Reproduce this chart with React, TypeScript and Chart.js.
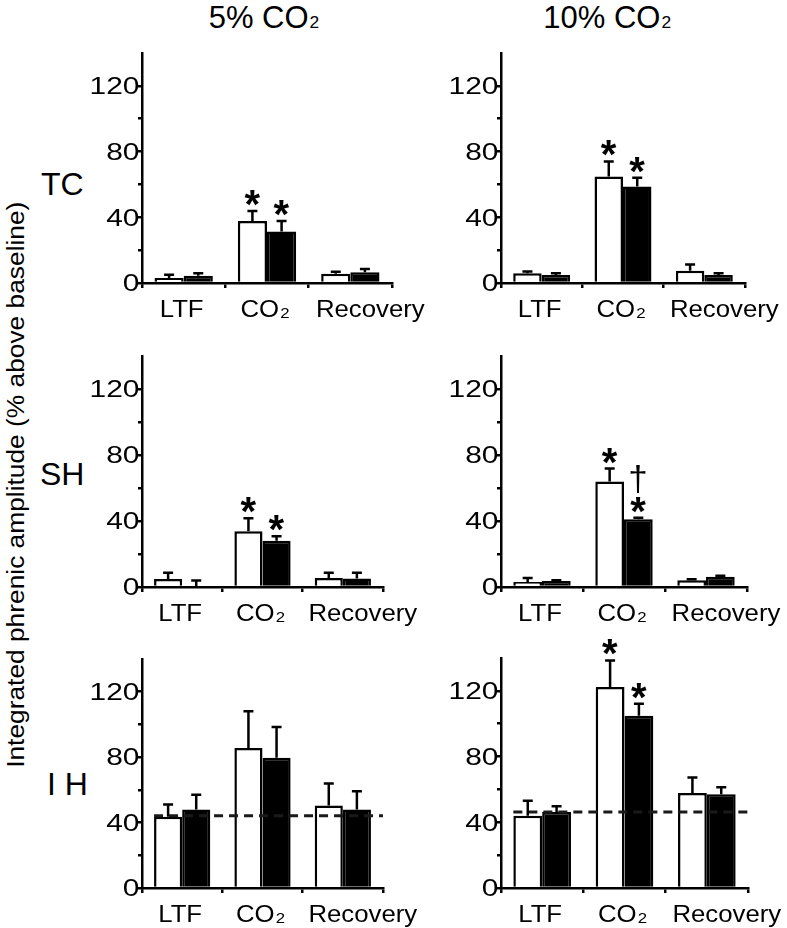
import React, { useEffect, useRef } from 'react';
import { Chart, registerables } from 'chart.js';

Chart.register(...registerables);

// ---------- data ----------
const categories = ['LTF', 'CO₂', 'Recovery'];
const yTickLabels = [0, 40, 80, 120];
const columnTitles = ['5% CO', '10% CO'];
const rowLabels = ['TC', 'SH', 'I H'];
const yAxisTitle = 'Integrated phrenic amplitude (% above baseline)';

// TC, 5% CO2
const tc5Open = [3.0, 37.8, 5.7];
const tc5OpenErr = [2.0, 6.0, 1.2];
const tc5Filled = [4.4, 31.3, 6.5];
const tc5FilledErr = [1.6, 6.5, 2.0];
const tc5OpenMarks = [[], ['*'], []];
const tc5FilledMarks = [[], ['*'], []];

// TC, 10% CO2
const tc10Open = [5.9, 64.9, 7.5];
const tc10OpenErr = [1.1, 9.1, 3.7];
const tc10Filled = [4.9, 58.8, 4.9];
const tc10FilledErr = [1.0, 5.2, 1.0];
const tc10OpenMarks = [[], ['*'], []];
const tc10FilledMarks = [[], ['*'], []];

// SH, 5% CO2
const sh5Open = [4.9, 33.8, 5.5];
const sh5OpenErr = [3.7, 7.8, 3.1];
const sh5Filled = [0, 28.1, 5.1];
const sh5FilledErr = [3.9, 2.7, 3.5];
const sh5OpenMarks = [[], ['*'], []];
const sh5FilledMarks = [[], ['*'], []];

// SH, 10% CO2
const sh10Open = [3.1, 64.0, 4.1];
const sh10OpenErr = [2.4, 7.8, 0.6];
const sh10Filled = [3.7, 41.0, 6.2];
const sh10FilledErr = [0.4, 1.0, 0.6];
const sh10OpenMarks = [[], ['*'], []];
const sh10FilledMarks = [[], ['*', '†'], []];

// IH, 5% CO2
const ih5Open = [43.6, 85.6, 50.5];
const ih5OpenErr = [7.5, 22.4, 13.4];
const ih5Filled = [48.0, 79.7, 48.0];
const ih5FilledErr = [9.0, 18.7, 11.2];
const ih5OpenMarks = [[], [], []];
const ih5FilledMarks = [[], [], []];
const ih5Baseline = 44.2;

// IH, 10% CO2
const ih10Open = [44.0, 122.3, 57.8];
const ih10OpenErr = [9.1, 16.2, 9.5];
const ih10Filled = [46.2, 104.9, 57.0];
const ih10FilledErr = [3.5, 7.3, 4.3];
const ih10OpenMarks = [[], ['*'], []];
const ih10FilledMarks = [[], ['*'], []];
const ih10Baseline = 46.2;

// ---------- layout ----------
const FONT = '"Liberation Sans", Arial, Helvetica, sans-serif';
const PAD_L = 60;
const PAD_T = 50;
const PAD_R = 50;
const PAD_B = 45;
const labelShift = [-2, -2, 20];

type PanelDef = {
  open: number[];
  openErr: number[];
  filled: number[];
  filledErr: number[];
  openMarks: string[][];
  filledMarks: string[][];
  baseline?: number;
  area: { l: number; t: number; r: number; b: number };
};

const panels: PanelDef[] = [
  { open: tc5Open, openErr: tc5OpenErr, filled: tc5Filled, filledErr: tc5FilledErr, openMarks: tc5OpenMarks, filledMarks: tc5FilledMarks, area: { l: 142, t: 53, r: 392, b: 283 } },
  { open: tc10Open, openErr: tc10OpenErr, filled: tc10Filled, filledErr: tc10FilledErr, openMarks: tc10OpenMarks, filledMarks: tc10FilledMarks, area: { l: 501, t: 53, r: 745, b: 283 } },
  { open: sh5Open, openErr: sh5OpenErr, filled: sh5Filled, filledErr: sh5FilledErr, openMarks: sh5OpenMarks, filledMarks: sh5FilledMarks, area: { l: 142, t: 356, r: 383, b: 587 } },
  { open: sh10Open, openErr: sh10OpenErr, filled: sh10Filled, filledErr: sh10FilledErr, openMarks: sh10OpenMarks, filledMarks: sh10FilledMarks, area: { l: 501, t: 356, r: 747, b: 587 } },
  { open: ih5Open, openErr: ih5OpenErr, filled: ih5Filled, filledErr: ih5FilledErr, openMarks: ih5OpenMarks, filledMarks: ih5FilledMarks, baseline: ih5Baseline, area: { l: 142, t: 659, r: 383, b: 888 } },
  { open: ih10Open, openErr: ih10OpenErr, filled: ih10Filled, filledErr: ih10FilledErr, openMarks: ih10OpenMarks, filledMarks: ih10FilledMarks, baseline: ih10Baseline, area: { l: 501, t: 658, r: 748, b: 888 } },
];

function drawInk(ctx: CanvasRenderingContext2D, text: string, font: string, cx: number, cy: number) {
  ctx.font = font;
  ctx.textAlign = 'left';
  ctx.textBaseline = 'alphabetic';
  const m = ctx.measureText(text);
  const left = m.actualBoundingBoxLeft;
  const right = m.actualBoundingBoxRight;
  const asc = m.actualBoundingBoxAscent;
  const desc = m.actualBoundingBoxDescent;
  const x = cx - (right - left) / 2;
  const y = cy + (asc - desc) / 2;
  ctx.fillText(text, x, y);
}

function Panel({ p }: { p: PanelDef }) {
  const ref = useRef<HTMLCanvasElement | null>(null);
  const w = p.area.r - p.area.l + PAD_L + PAD_R;
  const h = p.area.b - p.area.t + PAD_T + PAD_B;

  useEffect(() => {
    const canvas = ref.current;
    if (!canvas) return;

    const errPlugin = {
      id: 'errBars',
      afterDatasetsDraw(chart: any) {
        const ctx = chart.ctx as CanvasRenderingContext2D;
        const ys = chart.scales.y;
        const errs = [p.openErr, p.filledErr];
        const marks = [p.openMarks, p.filledMarks];
        ctx.save();
        // dashed baseline
        if (p.baseline !== undefined) {
          const first = chart.getDatasetMeta(0).data[0];
          const yb = ys.getPixelForValue(p.baseline);
          ctx.beginPath();
          ctx.setLineDash([9, 6]);
          ctx.lineWidth = 3;
          ctx.strokeStyle = '#1a1a1a';
          ctx.moveTo(first.x - first.width / 2, yb);
          ctx.lineTo(chart.chartArea.right, yb);
          ctx.stroke();
          ctx.setLineDash([]);
        }
        for (let di = 0; di < 2; di++) {
          const meta = chart.getDatasetMeta(di);
          const vals = chart.data.datasets[di].data as number[];
          meta.data.forEach((bar: any, i: number) => {
            const v = vals[i];
            const e = errs[di][i];
            const y0 = ys.getPixelForValue(v);
            const y1 = ys.getPixelForValue(v + e);
            ctx.beginPath();
            ctx.strokeStyle = '#000';
            ctx.lineWidth = 2.5;
            ctx.moveTo(bar.x, y0);
            ctx.lineTo(bar.x, y1);
            ctx.moveTo(bar.x - 5, y1);
            ctx.lineTo(bar.x + 5, y1);
            ctx.stroke();
            ctx.fillStyle = '#000';
            let cy = y1 - 13;
            (marks[di][i] || []).forEach((mk) => {
              if (mk === '*') {
                drawInk(ctx, mk, `bold 40px ${FONT}`, bar.x, cy);
              } else {
                drawInk(ctx, mk, `35px ${FONT}`, bar.x, cy - 1);
              }
              cy -= 25;
            });
          });
        }
        ctx.restore();
      },
    };

    const textPlugin = {
      id: 'axisText',
      afterDraw(chart: any) {
        const ctx = chart.ctx as CanvasRenderingContext2D;
        const ys = chart.scales.y;
        const xs = chart.scales.x;
        ctx.save();
        ctx.fillStyle = '#000';
        ctx.textBaseline = 'alphabetic';
        // y tick labels
        const yf = 23;
        ctx.font = `${yf}px ${FONT}`;
        ctx.textAlign = 'right';
        yTickLabels.forEach((v) => {
          const py = ys.getPixelForValue(v);
          ctx.save();
          ctx.translate(chart.chartArea.left - 2.5, py + 0.358 * yf);
          ctx.scale(1.3, 1);
          ctx.fillText(String(v), 0, 0);
          ctx.restore();
        });
        // x labels
        const xf = 23;
        const sx = 1.12;
        const by = chart.chartArea.bottom + 33.5;
        ctx.textAlign = 'left';
        categories.forEach((lab, i) => {
          const px = xs.getPixelForTick(i) + labelShift[i];
          const parts = lab.split('₂');
          const main = parts[0];
          const hasSub = parts.length > 1;
          ctx.font = `${xf}px ${FONT}`;
          const mw = ctx.measureText(main).width * sx;
          let sw = 0;
          if (hasSub) {
            ctx.font = `${Math.round(xf * 0.66)}px ${FONT}`;
            sw = ctx.measureText('2').width * sx + 1;
          }
          const x0 = px - (mw + sw) / 2;
          ctx.save();
          ctx.translate(x0, by);
          ctx.scale(sx, 1);
          ctx.font = `${xf}px ${FONT}`;
          ctx.fillText(main, 0, 0);
          ctx.restore();
          if (hasSub) {
            ctx.save();
            ctx.translate(x0 + mw + 1, by + 1.5);
            ctx.scale(sx, 1);
            ctx.font = `${Math.round(xf * 0.66)}px ${FONT}`;
            ctx.fillText('2', 0, 0);
            ctx.restore();
          }
        });
        ctx.restore();
      },
    };

    const chart = new Chart(canvas, {
      type: 'bar',
      data: {
        labels: categories,
        datasets: [
          { data: p.open, backgroundColor: '#ffffff', borderColor: '#000000', borderWidth: 2.5 },
          { data: p.filled, backgroundColor: '#000000', borderColor: '#000000', borderWidth: 2.5 },
        ],
      },
      options: {
        responsive: false,
        animation: false,
        devicePixelRatio: 1,
        events: [],
        layout: { padding: { left: 0, top: PAD_T, right: PAD_R, bottom: 0 } },
        datasets: { bar: { categoryPercentage: 0.7, barPercentage: 1 } },
        plugins: { legend: { display: false }, tooltip: { enabled: false } },
        scales: {
          x: {
            offset: true,
            grid: { display: true, offset: true, drawOnChartArea: false, drawTicks: true, tickLength: 5, color: '#000', lineWidth: 2.5 },
            border: { display: true, color: '#000', width: 2.5, z: 1 },
            ticks: { display: false },
            afterFit: (s: any) => { s.height = PAD_B; },
          },
          y: {
            min: 0,
            max: 140,
            ticks: { display: false, stepSize: 20 },
            grid: {
              display: true,
              drawOnChartArea: false,
              drawTicks: true,
              tickLength: 4,
              lineWidth: 2.5,
              color: (c: any) => (c.tick && c.tick.value === 140 ? 'rgba(0,0,0,0)' : '#000'),
            },
            border: { display: true, color: '#000', width: 2.5, z: 1 },
            afterFit: (s: any) => { s.width = PAD_L; },
          },
        },
      },
      plugins: [errPlugin, textPlugin],
    } as any);
    return () => chart.destroy();
  }, []);

  return (
    <canvas
      ref={ref}
      width={w}
      height={h}
      style={{ position: 'absolute', left: p.area.l - PAD_L, top: p.area.t - PAD_T, width: w, height: h, display: 'block' }}
    />
  );
}

export default function App() {
  const titleStyle: React.CSSProperties = {
    position: 'absolute', top: 2, fontSize: 31, lineHeight: '31px', fontFamily: FONT, whiteSpace: 'nowrap', color: '#000',
  };
  const subStyle: React.CSSProperties = { fontSize: '0.56em', lineHeight: '0', marginLeft: 1 };
  const rowStyle: React.CSSProperties = {
    position: 'absolute', fontSize: 32, lineHeight: '32px', fontFamily: FONT, whiteSpace: 'nowrap', color: '#000',
  };
  return (
    <div style={{ position: 'absolute', left: 0, top: 0, width: 787, height: 928, background: '#fff', overflow: 'hidden' }}>
      <div style={{ ...titleStyle, left: 208.7 }}>{columnTitles[0]}<span style={subStyle}>2</span></div>
      <div style={{ ...titleStyle, left: 543.3 }}>{columnTitles[1]}<span style={subStyle}>2</span></div>
      <div style={{ ...rowStyle, left: 41, top: 168 }}>{rowLabels[0]}</div>
      <div style={{ ...rowStyle, left: 40, top: 458 }}>{rowLabels[1]}</div>
      <div style={{ ...rowStyle, left: 47, top: 768 }}>{rowLabels[2]}</div>
      <div
        style={{
          position: 'absolute', left: 16.85 - 350, top: 485 - 11.75, width: 700, height: 23.5,
          fontSize: 23.5, lineHeight: '23.5px', fontFamily: FONT, textAlign: 'center', whiteSpace: 'nowrap',
          transform: 'rotate(-90deg) scaleX(1.12)', transformOrigin: 'center center', color: '#000',
        }}
      >
        {yAxisTitle}
      </div>
      {panels.map((p, i) => (
        <Panel key={i} p={p} />
      ))}
    </div>
  );
}
